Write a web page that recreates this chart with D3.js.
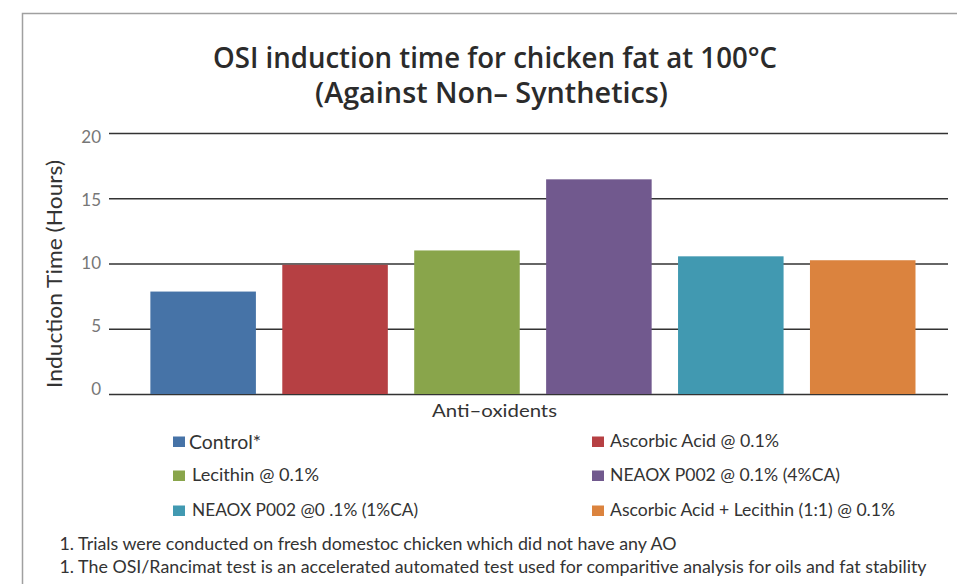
<!DOCTYPE html>
<html>
<head>
<meta charset="utf-8">
<script src="https://cdn.jsdelivr.net/npm/d3@7"></script>
<style>
    body { margin: 0; background: #fff; }
    text { font-family: Lato, "Open Sans", sans-serif; fill: #333; }
    .title { font-family: "Open Sans", sans-serif; font-weight: 600; font-size: 28px; fill: #2b2b2b; }
    .tick-label { font-size: 17px; fill: #777; font-weight: 400; }
    .axis-label { font-size: 21px; }
    .legend-label { font-size: 17px; }
    .note { font-size: 17px; }
</style>
</head>
<body>
<div id="vis"></div>
<script>
// data
var categories = ['Control*', 'Ascorbic Acid @ 0.1%', 'Lecithin @ 0.1%',
                  'NEAOX P002 @ 0.1% (4%CA)', 'NEAOX P002 @0 .1% (1%CA)',
                  'Ascorbic Acid + Lecithin (1:1) @ 0.1%'];
var hours = [7.85, 9.9, 11.0, 16.45, 10.55, 10.25];
var colors = ['#4673a7', '#b64043', '#89a54b', '#71598e', '#4199b1', '#db833e'];
var yTicks = [0, 5, 10, 15, 20];
var titleLines = ['OSI induction time for chicken fat at 100°C', '(Against Non– Synthetics)'];
var notes = ['1. Trials were conducted on fresh domestoc chicken which did not have any AO',
             '1. The OSI/Rancimat test is an accelerated automated test used for comparitive analysis for oils and fat stability'];

var width = 957;
var height = 584;
var margin = { top: 133, right: 9, bottom: 190, left: 109 };
var drawWidth = width - margin.left - margin.right;
var drawHeight = height - margin.top - margin.bottom;

var svg = d3.select('#vis')
            .append('svg')
            .attr('width', width)
            .attr('height', height);

// frame
svg.append('path')
    .attr('d', 'M22.5,' + height + 'V13.5H' + width)
    .attr('fill', 'none')
    .attr('stroke', '#a0a0a0')
    .attr('stroke-width', 1.5);

// title
var titleWidths = [564, 353];
var titleY = [68, 103];
svg.selectAll('.title')
    .data(titleLines)
    .enter().append('text')
    .attr('class', 'title')
    .attr('x', function(d, i) { return i == 0 ? 495 : 491.5; })
    .attr('y', function(d, i) { return titleY[i]; })
    .attr('text-anchor', 'middle')
    .attr('textLength', function(d, i) { return titleWidths[i]; })
    .attr('lengthAdjust', 'spacingAndGlyphs')
    .text(function(d) { return d; });

var g = svg.append('g')
            .attr('transform', 'translate(' + margin.left + ', ' + margin.top + ')');

var xScale = d3.scaleBand()
                .domain(categories)
                .range([0, drawWidth])
                .paddingInner(0.2)
                .paddingOuter(0.28)
                .align(0.56);

var yScale = d3.scaleLinear()
                .domain([0, 20])
                .range([drawHeight, 0]);

// gridlines
var yAxis = d3.axisLeft()
                .scale(yScale)
                .tickValues(yTicks)
                .tickSize(-drawWidth)
                .tickPadding(8);
var yAxisG = g.append('g')
                .attr('class', 'axis')
                .call(yAxis);
yAxisG.select('.domain').remove();
yAxisG.selectAll('.tick line')
    .attr('stroke', '#333')
    .attr('stroke-width', 1.4);
// labels sit a little off their gridlines in the original
yAxisG.selectAll('.tick text')
    .attr('class', 'tick-label')
    .attr('x', -8)
    .attr('dy', function(d) { return (0.32 + (d - 11) * 0.025) + 'em'; })
    .style('font-family', 'Lato, sans-serif');

// bars
g.selectAll('rect.bar')
    .data(hours)
    .enter().append('rect')
    .attr('class', 'bar')
    .attr('x', function(d, i) { return xScale(categories[i]); })
    .attr('y', function(d) { return yScale(d); })
    .attr('width', xScale.bandwidth())
    .attr('height', function(d) { return drawHeight - yScale(d); })
    .attr('fill', function(d, i) { return colors[i]; });

// axis titles
svg.append('text')
    .attr('class', 'axis-label')
    .attr('transform', 'translate(62, 274) rotate(-90)')
    .attr('text-anchor', 'middle')
    .attr('textLength', 228)
    .attr('lengthAdjust', 'spacingAndGlyphs')
    .text('Induction Time (Hours)');

svg.append('text')
    .attr('class', 'axis-label')
    .attr('x', 494.5)
    .attr('y', 417)
    .attr('text-anchor', 'middle')
    .style('font-size', '18px')
    .attr('textLength', 125)
    .attr('lengthAdjust', 'spacingAndGlyphs')
    .text('Anti–oxidents');

// legend, two columns
var legendX = [173, 592];
var textX = [192, 610];
var rowY = [447, 481, 516];
var labelWidths = [72, 169, 127, 230, 226, 285];
var legend = svg.selectAll('.legend')
                .data(categories)
                .enter().append('g')
                .attr('class', 'legend');
legend.append('rect')
    .attr('x', function(d, i) { return legendX[i % 2]; })
    .attr('y', function(d, i) { return rowY[Math.floor(i / 2)] - 10.5; })
    .attr('width', 12)
    .attr('height', 10.5)
    .attr('fill', function(d, i) { return colors[i]; });
legend.append('text')
    .attr('class', 'legend-label')
    .attr('x', function(d, i) { return i == 0 ? 189 : textX[i % 2]; })
    .attr('y', function(d, i) { return rowY[Math.floor(i / 2)] + (i == 0 ? 2 : 0); })
    .style('font-size', function(d, i) { return i == 0 ? '20px' : null; })
    .attr('textLength', function(d, i) { return labelWidths[i]; })
    .attr('lengthAdjust', 'spacingAndGlyphs')
    .text(function(d) { return d; });

// footnotes
var noteWidths = [617, 867];
svg.selectAll('.note')
    .data(notes)
    .enter().append('text')
    .attr('class', 'note')
    .attr('x', 59.5)
    .attr('y', function(d, i) { return 550 + i * 22.7; })
    .attr('textLength', function(d, i) { return noteWidths[i]; })
    .attr('lengthAdjust', 'spacingAndGlyphs')
    .text(function(d) { return d; });
</script>
</body>
</html>
